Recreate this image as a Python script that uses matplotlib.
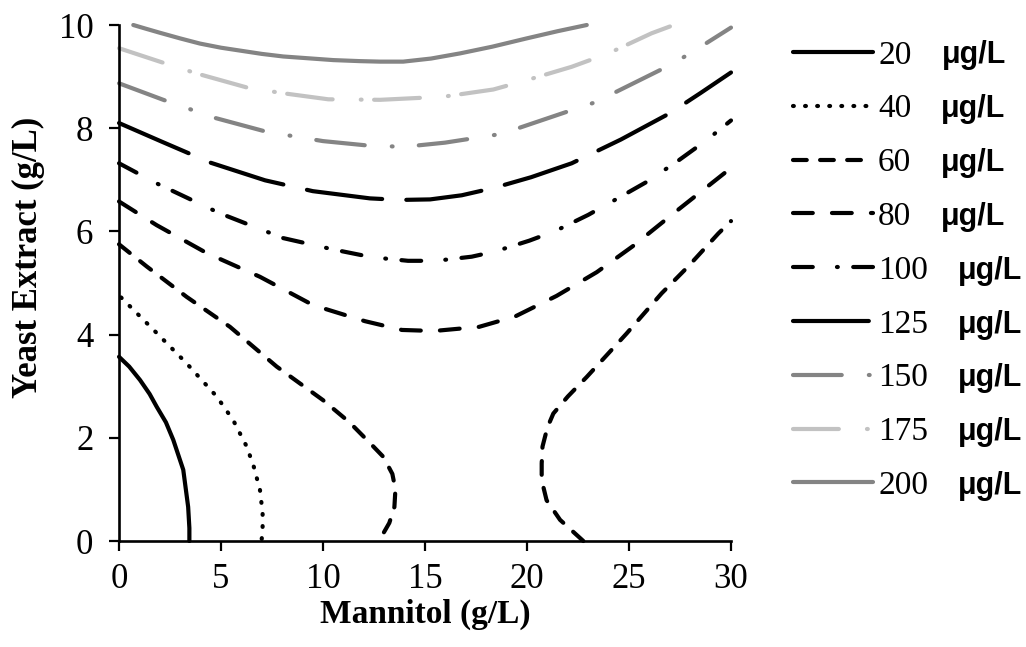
import matplotlib
matplotlib.use("Agg")
import matplotlib.pyplot as plt
from matplotlib.font_manager import FontProperties

# ---------------- data ----------------
levels = ["20", "40", "60", "80", "100", "125", "150", "175", "200"]
unit_label = "μg/L"

c20_x = [0.0, 0.5, 1.03, 1.5, 1.85, 2.3, 2.66, 3.15, 3.39, 3.45, 3.45]
c20_y = [3.57, 3.38, 3.12, 2.85, 2.6, 2.3, 1.96, 1.38, 0.66, 0.25, 0.0]

c40_x = [0.1, 0.38, 1.85, 3.32, 4.79, 5.6, 6.26, 6.6, 6.91, 7.04, 7.04, 6.99]
c40_y = [4.72, 4.61, 4.03, 3.44, 2.8, 2.34, 1.83, 1.45, 0.99, 0.54, 0.28, 0.0]

c60a_x = [0.0, 1.36, 3.32, 5.44, 7.73, 10.0, 11.3, 12.3, 12.96, 13.4, 13.55, 13.5, 13.25, 12.96, 12.75]
c60a_y = [5.75, 5.32, 4.73, 4.15, 3.38, 2.73, 2.3, 1.9, 1.63, 1.3, 1.0, 0.66, 0.35, 0.15, 0.0]

c60b_x = [22.76, 21.62, 20.96, 20.72, 20.72, 20.76, 21.0, 21.29, 22.0, 22.93, 24.88, 26.6, 27.9, 29.38, 30.0]
c60b_y = [0.0, 0.41, 0.79, 1.18, 1.5, 1.83, 2.2, 2.47, 2.8, 3.18, 4.02, 4.8, 5.32, 5.96, 6.2]

c80_x = [0.0, 1.85, 4.3, 6.91, 9.52, 12.06, 13.87, 15.44, 17.65, 19.41, 21.45, 23.42, 25.21, 27.25, 29.33, 30.0]
c80_y = [6.58, 6.12, 5.58, 5.12, 4.57, 4.26, 4.09, 4.07, 4.15, 4.35, 4.75, 5.21, 5.72, 6.37, 7.02, 7.23]

c100_x = [0.0, 1.85, 4.95, 8.05, 10.5, 12.39, 14.17, 15.54, 17.29, 18.43, 20.11, 21.4, 23.0, 24.4, 25.87, 27.34, 28.81, 30.0]
c100_y = [7.32, 6.93, 6.35, 5.87, 5.65, 5.5, 5.43, 5.43, 5.51, 5.61, 5.82, 6.01, 6.32, 6.63, 6.96, 7.35, 7.77, 8.15]

c125_x = [0.0, 2.09, 4.5, 7.16, 9.5, 12.3, 13.8, 15.25, 16.8, 18.35, 20.2, 22.19, 24.6, 27.0, 28.5, 30.0]
c125_y = [8.1, 7.74, 7.33, 6.99, 6.78, 6.64, 6.61, 6.62, 6.7, 6.84, 7.05, 7.32, 7.78, 8.29, 8.68, 9.08]

c150_x = [0.0, 2.17, 4.7, 7.24, 10.0, 12.3, 14.0, 15.98, 18.43, 19.57, 22.19, 23.25, 24.4, 27.0, 28.04, 30.0]
c150_y = [8.87, 8.55, 8.2, 7.93, 7.75, 7.66, 7.64, 7.72, 7.87, 8.0, 8.35, 8.49, 8.71, 9.22, 9.46, 9.95]

c175_x = [0.0, 2.0, 3.81, 6.26, 8.0, 10.26, 12.8, 15.9, 18.35, 19.98, 22.19, 23.99, 26.11, 27.2]
c175_y = [9.55, 9.29, 9.06, 8.79, 8.68, 8.56, 8.55, 8.61, 8.75, 8.93, 9.19, 9.45, 9.84, 10.0]

c200_x = [0.7, 1.3, 2.0, 3.0, 3.97, 5.0, 6.0, 7.0, 8.05, 10.5, 11.8, 12.8, 13.93, 15.3, 16.72, 18.3, 19.98, 21.5, 22.93]
c200_y = [10.0, 9.93, 9.85, 9.74, 9.64, 9.56, 9.5, 9.44, 9.39, 9.32, 9.3, 9.29, 9.29, 9.35, 9.45, 9.58, 9.74, 9.88, 10.0]

contours = {
    "20": [(c20_x, c20_y)],
    "40": [(c40_x, c40_y)],
    "60": [(c60a_x, c60a_y), (c60b_x, c60b_y)],
    "80": [(c80_x, c80_y)],
    "100": [(c100_x, c100_y)],
    "125": [(c125_x, c125_y)],
    "150": [(c150_x, c150_y)],
    "175": [(c175_x, c175_y)],
    "200": [(c200_x, c200_y)],
}

# ---------------- styles ----------------
LW = 3.0
styles = {
    "20":  dict(color="black", dashes=None),
    "40":  dict(color="black", dashes=(0.2, 2.7)),
    "60":  dict(color="black", dashes=(3.3, 3.2)),
    "80":  dict(color="black", dashes=(4.75, 4.6)),
    "100": dict(color="black", dashes=(4.75, 5.8, 0.2, 3.7)),
    "125": dict(color="black", dashes=(18.2, 5.8)),
    "150": dict(color="#848484", dashes=(11.7, 6.5, 0.2, 6.3)),
    "175": dict(color="#c2c2c2", dashes=(11.0, 6.75, 0.2, 3.0)),
    "200": dict(color="#848484", dashes=None),
}

serif = "Liberation Serif"
sans = "Liberation Sans"

fig = plt.figure(figsize=(10.26, 6.47), dpi=100)
ax = fig.add_axes([119 / 1026, 106 / 647, 612 / 1026, 516 / 647])

handles = []
for lev in levels:
    st = styles[lev]
    first = None
    for xs, ys in contours[lev]:
        kw = dict(color=st["color"], lw=LW, solid_capstyle="round",
                  dash_capstyle="round", clip_on=False)
        ln, = ax.plot(xs, ys, **kw)
        if st["dashes"] is not None:
            ln.set_dashes(st["dashes"])
        if first is None:
            first = ln
    handles.append(first)

ax.set_xlim(0, 30)
ax.set_ylim(0, 10)
ax.set_xticks(range(0, 31, 5))
ax.set_yticks(range(0, 11, 2))
for s in ("top", "right"):
    ax.spines[s].set_visible(False)
for s in ("left", "bottom"):
    ax.spines[s].set_linewidth(1.9)
ax.tick_params(direction="out", length=7.5, width=1.6, labelsize=25)
ax.tick_params(axis="x", pad=8)
ax.tick_params(axis="y", pad=11)
for lab in ax.get_xticklabels() + ax.get_yticklabels():
    lab.set_fontfamily(serif)

ax.set_xlabel("Mannitol (g/L)", fontsize=24, fontweight="bold", family=serif, labelpad=2)
ax.set_ylabel("Yeast Extract (g/L)", fontsize=25, fontweight="bold", family=serif)
ax.yaxis.set_label_coords(-0.121, 0.55)

leg = fig.legend(handles, levels, loc="upper left",
                 bbox_to_anchor=(793 / 1026, 1 - 40 / 647),
                 frameon=False, prop=FontProperties(family=serif, size=24),
                 handlelength=2.4, handletextpad=0.15, labelspacing=0.70,
                 borderaxespad=0, borderpad=0)

fig.canvas.draw()
renderer = fig.canvas.get_renderer()
fp = FontProperties(family=serif, size=24)
_, _, desc = renderer.get_text_width_height_descent("lp", fp, ismath=False)
for t in leg.get_texts():
    bb = t.get_window_extent(renderer)
    fig.text((bb.x1 + 30) / fig.bbox.width, (bb.y0 + desc) / fig.bbox.height,
             unit_label, fontsize=22, fontweight="bold", family=sans,
             ha="left", va="baseline")

fig.savefig("out.png", dpi=100)
